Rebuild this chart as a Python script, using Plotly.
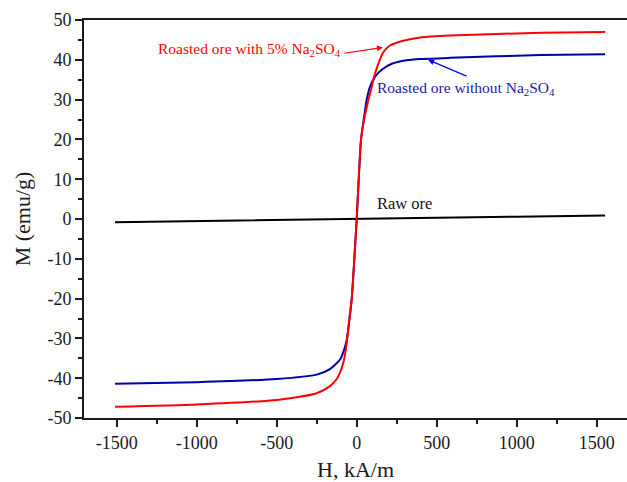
import plotly.graph_objects as go

# Raw ore
H_raw = [-1510, -1000, -500, 0, 500, 1000, 1552]
M_raw = [-0.80, -0.55, -0.28, 0.0, 0.30, 0.58, 0.90]

# Roasted ore with 5% Na2SO4
H_red = [-1510, -1000, -500, -250, -167, -125, -104, -80, -62, -46, -31, 0,
         27, 46, 73, 94, 108, 135, 166, 208, 291, 396, 585, 1151, 1552]
M_red = [-47.2, -46.6, -45.5, -43.8, -42.0, -40.2, -38.6, -35.5, -31.0, -25.0, -20.0, 0.0,
         19.9, 24.9, 29.9, 33.2, 35.7, 39.0, 41.9, 43.6, 44.8, 45.6, 46.1, 46.8, 47.0]

# Roasted ore without Na2SO4
H_blue = [-1510, -1000, -500, -250, -167, -104, -80, -62, -46, -31, 0,
          27, 46, 62, 83, 114, 156, 219, 312, 396, 585, 1151, 1552]
M_blue = [-41.4, -41.0, -40.2, -39.1, -37.7, -35.3, -33.0, -30.3, -25.5, -20.0, 0.0,
          20.0, 25.5, 29.9, 33.2, 35.7, 37.5, 39.0, 39.9, 40.2, 40.5, 41.2, 41.4]

x_ticks = [-1500, -1000, -500, 0, 500, 1000, 1500]
y_ticks = [-50, -40, -30, -20, -10, 0, 10, 20, 30, 40, 50]

FONT = "Liberation Serif, Times New Roman, serif"
INK = "#1a1a1a"

fig = go.Figure()
fig.add_trace(go.Scatter(x=H_raw, y=M_raw, mode="lines", line=dict(color="#000000", width=2)))
fig.add_trace(go.Scatter(x=H_blue, y=M_blue, mode="lines",
                         line=dict(color="#0000a8", width=2, shape="spline", smoothing=0.6)))
fig.add_trace(go.Scatter(x=H_red, y=M_red, mode="lines",
                         line=dict(color="#ff0000", width=2, shape="spline", smoothing=0.6)))

fig.update_layout(
    width=627, height=482,
    margin=dict(l=84, r=0, t=20, b=64),
    plot_bgcolor="white", paper_bgcolor="white",
    showlegend=False,
    font=dict(family=FONT, color=INK),
)
fig.update_xaxes(
    range=[-1704, 1689], showgrid=False, zeroline=False,
    showline=True, linecolor=INK, linewidth=2, mirror=True,
    tickmode="array", tickvals=x_ticks, ticktext=[str(v) for v in x_ticks],
    ticks="outside", ticklen=7, tickwidth=1.5, tickcolor=INK,
    minor=dict(ticks="outside", ticklen=4, tickwidth=1.5, tickcolor=INK, dtick=250, tick0=0),
    tickfont=dict(size=18, family=FONT, color=INK),
    title=dict(text="H, kA/m", font=dict(size=22, family=FONT, color=INK), standoff=10),
)
fig.update_yaxes(
    range=[-50, 50], showgrid=False, zeroline=False,
    showline=True, linecolor=INK, linewidth=2,
    tickmode="array", tickvals=y_ticks, ticktext=[str(v) for v in y_ticks],
    ticks="outside", ticklen=7, tickwidth=1.5, tickcolor=INK,
    minor=dict(ticks="outside", ticklen=4, tickwidth=1.5, tickcolor=INK, dtick=5, tick0=0),
    tickfont=dict(size=18, family=FONT, color=INK),
    title=dict(text="M (emu/g)", font=dict(size=22, family=FONT, color=INK), standoff=11),
)

fig.add_annotation(x=-86, y=42.6, xref="x", yref="y", xanchor="right", yanchor="middle",
                   text="Roasted ore with 5% Na<sub>2</sub>SO<sub>4</sub>", showarrow=False,
                   font=dict(size=15.5, family=FONT, color="#ff0000"))
fig.add_annotation(x=164, y=43.1, xref="x", yref="y", text="", showarrow=True,
                   ax=-40, ay=6, arrowhead=2, arrowsize=1, arrowwidth=1.2, arrowcolor="#ff0000")
fig.add_annotation(x=112, y=32.7, xref="x", yref="y", xanchor="left", yanchor="middle",
                   text="Roasted ore without Na<sub>2</sub>SO<sub>4</sub>", showarrow=False,
                   font=dict(size=15.5, family=FONT, color="#2020a0"))
fig.add_annotation(x=446, y=40.0, xref="x", yref="y", text="", showarrow=True,
                   ax=40, ay=17, arrowhead=2, arrowsize=1, arrowwidth=1.2, arrowcolor="#0000ff")
fig.add_annotation(x=112, y=4.0, xref="x", yref="y", xanchor="left", yanchor="middle",
                   text="Raw ore", showarrow=False,
                   font=dict(size=16.5, family=FONT, color="#111111"))

fig.write_html("out.html")
